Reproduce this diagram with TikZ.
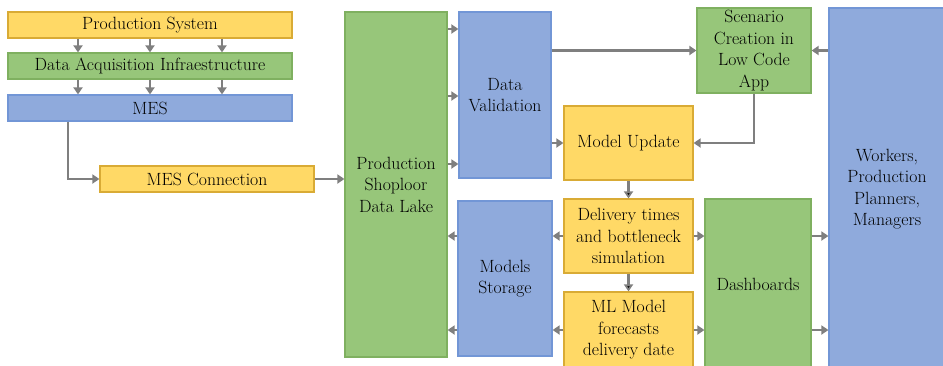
\documentclass[tikz,border=0pt]{standalone}
\usetikzlibrary{arrows.meta}

\definecolor{yfill}{HTML}{FFD966}
\definecolor{yline}{HTML}{D9AB35}
\definecolor{gfill}{HTML}{97C67A}
\definecolor{gline}{HTML}{7FB060}
\definecolor{bfill}{HTML}{8FAADC}
\definecolor{bline}{HTML}{7296D6}
\definecolor{linkgray}{HTML}{7F7F7F}

\begin{document}
\begin{tikzpicture}[x=1pt,y=-1pt,
        box/.style={line width=1.2pt,align=center,inner sep=0pt,text=black,
            font=\rmfamily\fontsize{17.7}{21.5}\selectfont},
        ybox/.style={box,fill=yfill,draw=yline},
        gbox/.style={box,fill=gfill,draw=gline},
        bbox/.style={box,fill=bfill,draw=bline},
        link/.style={-{Triangle[length=7pt,width=9pt]},draw=linkgray,line width=2.8pt}]

        \clip (0,0) rectangle (943,365);

        % Define vertices
        \node[ybox,minimum width=284pt,minimum height=26pt] (prodsys) at (150,25) {Production System};
        \node[gbox,minimum width=284pt,minimum height=26pt] (daq) at (150,66) {Data Acquisition Infraestructure};
        \node[bbox,minimum width=284pt,minimum height=26pt] (mes) at (150,108) {MES};
        \node[ybox,minimum width=214pt,minimum height=26pt] (mesconn) at (207,179) {MES Connection};
        \node[gbox,minimum width=102pt,minimum height=345pt] (lake) at (396,184.5) {Production\\Shoploor\\Data Lake};
        \node[bbox,minimum width=92pt,minimum height=166pt] (valid) at (505,95) {Data\\Validation};
        \node[bbox,minimum width=94pt,minimum height=155pt] (stor) at (505,278.5) {Models\\Storage};
        \node[gbox,minimum width=114pt,minimum height=85pt] (scen) at (754,50.5) {Scenario\\Creation in\\Low Code\\App};
        \node[ybox,minimum width=129pt,minimum height=74pt] (mupd) at (628.5,143) {Model Update};
        \node[ybox,minimum width=129pt,minimum height=74pt] (deliv) at (628.5,236) {Delivery times\\and bottleneck\\simulation};
        \node[ybox,minimum width=129pt,minimum height=76pt] (ml) at (628.5,330) {ML Model\\forecasts\\delivery date};
        \node[gbox,minimum width=106pt,minimum height=171pt] (dash) at (758,284.5) {Dashboards};
        \node[bbox,minimum width=116pt,minimum height=362pt] (work) at (887,189) {Workers,\\Production\\Planners,\\Managers};

        % Draw edges
        \foreach \xx in {78,150,222} {
            \draw[link] (prodsys.south -| \xx,0) -- (daq.north -| \xx,0);
            \draw[link] (daq.south -| \xx,0) -- (mes.north -| \xx,0);
        }
        \draw[link] (mes.south -| 68,0) |- (mesconn.west);
        \draw[link] (mesconn.east) -- (lake.west |- mesconn.east);
        \foreach \yy in {29,96,164}
            \draw[link] (lake.east |- 0,\yy) -- (valid.west |- 0,\yy);
        \draw[link] (valid.east |- scen.west) -- (scen.west);
        \draw[link] (work.west |- scen.east) -- (scen.east);
        \draw[link] (valid.east |- mupd.west) -- (mupd.west);
        \draw[link] (scen.south) |- (mupd.east);
        \path[link]
            (mupd) edge (deliv)
            (deliv) edge (ml);
        \foreach \src in {deliv,ml} {
            \draw[link] (\src.west) -- (stor.east |- \src.west);
            \draw[link] (stor.west |- \src.west) -- (lake.east |- \src.west);
            \draw[link] (\src.east) -- (dash.west |- \src.east);
            \draw[link] (dash.east |- \src.east) -- (work.west |- \src.east);
        }

\end{tikzpicture}
\end{document}
